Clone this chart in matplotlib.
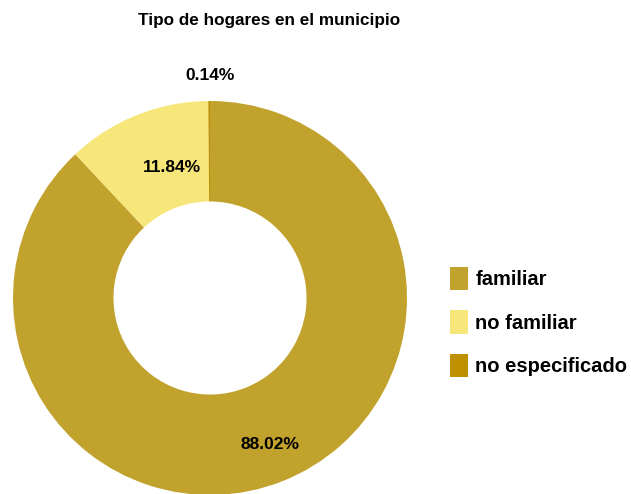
import matplotlib
matplotlib.use('Agg')
import matplotlib.pyplot as plt
from matplotlib.patches import Patch

# data
labels=['familiar','no familiar','no especificado']
values=[88.02,11.84,0.14]
colors=['#C1A22D','#F7E67A','#BF9100']
pct_text=['88.02%','11.84%','0.14%']
title='Tipo de hogares en el municipio'

plt.rcParams['font.family']=['Liberation Sans','DejaVu Sans']

fig=plt.figure(figsize=(6.31,4.94),dpi=100)
ax=fig.add_axes([13/631,(494-298-197)/494,394/631,394/494])

wedges,_=ax.pie(values,colors=colors,startangle=90,counterclock=False,radius=1.0,
                wedgeprops=dict(width=0.51,linewidth=0))
ax.set_xlim(-1,1)
ax.set_ylim(-1,1)
ax.axis('off')

# percent labels
lblpos=[(0.305,-0.746),(-0.193,0.66),(0.0,1.13)]
for (x,y),t in zip(lblpos,pct_text):
    ax.text(x,y,t,ha='center',va='center',fontsize=12.5,fontweight='bold',color='black')

fig.text(269/631,1-20/494,title,ha='center',va='center',fontsize=12.3,fontweight='bold')

handles=[Patch(facecolor=c,edgecolor='none') for c in colors]
fig.legend(handles,labels,loc='center left',bbox_to_anchor=(432/631,1-322/494),frameon=False,
           handlelength=0.9,handleheight=1.4,handletextpad=0.35,labelspacing=1.0,
           prop=dict(weight='bold',size=14.5))

fig.savefig('out.png',dpi=100)
